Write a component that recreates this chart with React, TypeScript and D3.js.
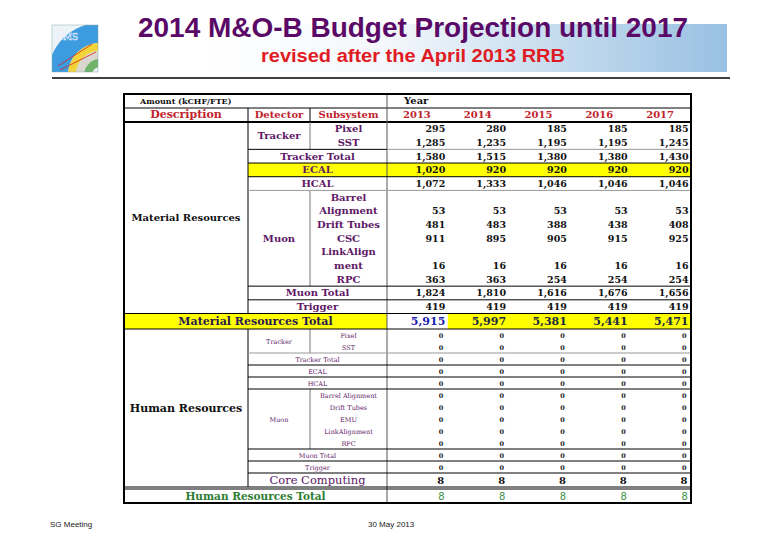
import React from "react";
import * as d3 from "d3";

const years = ["2013", "2014", "2015", "2016", "2017"];

const materialSubsystems = [
  "Pixel", "SST", "Tracker Total", "ECAL", "HCAL", "Barrel", "Alignment",
  "Drift Tubes", "CSC", "LinkAlign", "ment", "RPC", "Muon Total", "Trigger",
];
const materialValues: (number[] | null)[] = [
  [295, 280, 185, 185, 185],
  [1285, 1235, 1195, 1195, 1245],
  [1580, 1515, 1380, 1380, 1430],
  [1020, 920, 920, 920, 920],
  [1072, 1333, 1046, 1046, 1046],
  null,
  [53, 53, 53, 53, 53],
  [481, 483, 388, 438, 408],
  [911, 895, 905, 915, 925],
  null,
  [16, 16, 16, 16, 16],
  [363, 363, 254, 254, 254],
  [1824, 1810, 1616, 1676, 1656],
  [419, 419, 419, 419, 419],
];
const materialTotal = [5915, 5997, 5381, 5441, 5471];

const humanSubsystems = [
  "Pixel", "SST", "Tracker Total", "ECAL", "HCAL", "Barrel Alignment",
  "Drift Tubes", "EMU", "LinkAlignment", "RPC", "Muon Total", "Trigger",
];
const humanValues = [
  [0, 0, 0, 0, 0], [0, 0, 0, 0, 0], [0, 0, 0, 0, 0], [0, 0, 0, 0, 0],
  [0, 0, 0, 0, 0], [0, 0, 0, 0, 0], [0, 0, 0, 0, 0], [0, 0, 0, 0, 0],
  [0, 0, 0, 0, 0], [0, 0, 0, 0, 0], [0, 0, 0, 0, 0], [0, 0, 0, 0, 0],
];
const coreComputing = [8, 8, 8, 8, 8];
const humanTotal = [8, 8, 8, 8, 8];

// row structure
const matSpanRows = [2, 3, 4, 12, 13];
const humSpanRows = [2, 3, 4, 10, 11];
const matGroups = [{ name: "Tracker", from: 0, to: 1 }, { name: "Muon", from: 5, to: 11 }];
const humGroups = [{ name: "Tracker", from: 0, to: 1 }, { name: "Muon", from: 5, to: 9 }];

const W = 780;
const H = 540;
const SERIF = "'DejaVu Serif', serif";
const SANS = "'Liberation Sans', Arial, sans-serif";
const PURPLE = "#5e1866";
const RED = "#c0232b";

export default function App() {
  const fmt = d3.format(",");
  const left = 124, right = 691, top = 94, bottom = 503;
  const xDesc = [124, 248], xDet = [248, 310], xSub = [310, 387];
  const x = d3.scaleBand<string>().domain(years).range([387, right]);
  const yMat = d3.scaleLinear().domain([0, 14]).range([122, 313.5]);
  const yHum = d3.scaleLinear().domain([0, 12]).range([329, 473]);
  const matTotTop = 313.5, matTotBot = 329;
  const coreTop = 473, coreBot = 487;
  const humTotTop = 489, humTotBot = bottom;
  const valX = (i: number) => (x(years[i]) as number) + x.bandwidth() - 2.5;
  const midDesc = (xDesc[0] + xDesc[1]) / 2;
  const midDet = (xDet[0] + xDet[1]) / 2;
  const midSub = (xSub[0] + xSub[1]) / 2;
  const midLabel = (xDet[0] + xSub[1]) / 2;
  const midAll = (left + xSub[1]) / 2;

  const hLine = (y: number, x1: number, x2: number, color = "#000", w = 1, key?: string) => (
    <line key={key ?? `h${y}-${x1}-${x2}`} x1={x1} x2={x2} y1={y} y2={y} stroke={color} strokeWidth={w} />
  );
  const vLine = (xx: number, y1: number, y2: number, color = "#000", w = 1, key?: string) => (
    <line key={key ?? `v${xx}-${y1}-${y2}`} x1={xx} x2={xx} y1={y1} y2={y2} stroke={color} strokeWidth={w} />
  );

  // logo arcs
  const logoCx = 100, logoCy = 75;
  const arcGen = d3.arc();
  const logoRings = [
    { r0: 32, r1: 52, fill: "#3d9be0" },
    { r0: 24, r1: 32, fill: "#f2d33a" },
    { r0: 16, r1: 24, fill: "#d8d8d0" },
    { r0: 8, r1: 16, fill: "#6fb36a" },
  ];

  return (
    <svg width={W} height={H} style={{ position: "absolute", left: 0, top: 0, background: "#fff" }}>
      <defs>
        <linearGradient id="titleGrad" x1="0" x2="1" y1="0" y2="0">
          <stop offset="0" stopColor="#ffffff" />
          <stop offset="0.35" stopColor="#f4f8fc" />
          <stop offset="1" stopColor="#98c0e2" />
        </linearGradient>
        <clipPath id="logoClip">
          <rect x={52} y={25} width={46} height={47} />
        </clipPath>
      </defs>

      {/* title area */}
      <rect x={200} y={24} width={527} height={48} fill="url(#titleGrad)" />
      <g clipPath="url(#logoClip)">
        <rect x={52} y={25} width={46} height={47} fill="#eef3f8" />
        {logoRings.map((r, i) => (
          <path
            key={i}
            transform={`translate(${logoCx},${logoCy})`}
            d={arcGen({ innerRadius: r.r0, outerRadius: r.r1, startAngle: -Math.PI / 2, endAngle: 0 }) as string}
            fill={r.fill}
          />
        ))}
        <line x1={58} y1={66} x2={92} y2={44} stroke="#d32020" strokeWidth={0.8} />
        <line x1={60} y1={70} x2={96} y2={52} stroke="#d32020" strokeWidth={0.8} />
        <text x={56} y={40} fontFamily={SERIF} fontSize={9} fill="none" stroke="#e8f0ff" strokeWidth={0.5}>CMS</text>
      </g>
      <rect x={52} y={25} width={46} height={47} fill="none" stroke="#8aa" strokeWidth={0.5} />
      <text x={138} y={37} fontFamily={SANS} fontWeight="bold" fontSize={28} fill="#5a0a66"
        textLength={550} lengthAdjust="spacingAndGlyphs">2014 M&amp;O-B Budget Projection until 2017</text>
      <text x={261} y={62} fontFamily={SANS} fontWeight="bold" fontSize={18} fill="#e01b24"
        textLength={304} lengthAdjust="spacingAndGlyphs">revised after the April 2013 RRB</text>
      {hLine(78, 52, 730, "#000", 1.5, "titleRule")}

      {/* fills */}
      <rect x={xDet[0]} y={yMat(3)} width={right - xDet[0]} height={yMat(4) - yMat(3)} fill="#ffff00" />
      <rect x={left} y={matTotTop} width={xSub[1] - left} height={matTotBot - matTotTop} fill="#ffff00" />
      <rect x={x(years[1]) as number} y={matTotTop} width={right - (x(years[1]) as number)} height={matTotBot - matTotTop} fill="#ffff00" />

      {/* header */}
      <text x={140} y={104} fontFamily={SERIF} fontWeight="bold" fontSize={8} fill="#111">Amount (kCHF/FTE)</text>
      <text x={404} y={104} fontFamily={SERIF} fontWeight="bold" fontSize={10} fill="#111">Year</text>
      <text x={midDesc} y={118} textAnchor="middle" fontFamily={SERIF} fontWeight="bold" fontSize={11} fill={RED}>Description</text>
      <text x={midDet} y={118} textAnchor="middle" fontFamily={SERIF} fontWeight="bold" fontSize={10} fill={RED}>Detector</text>
      <text x={midSub} y={118} textAnchor="middle" fontFamily={SERIF} fontWeight="bold" fontSize={10} fill={RED}>Subsystem</text>
      {years.map((yr) => (
        <text key={yr} x={(x(yr) as number) + 16} y={118} fontFamily={SERIF} fontWeight="bold" fontSize={10} fill={RED}>{yr}</text>
      ))}

      {/* material section labels */}
      <text x={midDesc} y={(yMat(0) + matTotTop) / 2 + 3.5} textAnchor="middle" fontFamily={SERIF} fontWeight="bold" fontSize={10} fill="#111">Material Resources</text>
      {matGroups.map((g) => (
        <text key={"mg" + g.name} x={midDet} y={(yMat(g.from) + yMat(g.to + 1)) / 2 + 3.5} textAnchor="middle"
          fontFamily={SERIF} fontWeight="bold" fontSize={10} fill={PURPLE}>{g.name}</text>
      ))}
      {materialSubsystems.map((s, i) => {
        const span = matSpanRows.includes(i);
        return (
          <text key={"ms" + i} x={span ? midLabel : midSub} y={(yMat(i) + yMat(i + 1)) / 2 + 3.5} textAnchor="middle"
            fontFamily={SERIF} fontWeight="bold" fontSize={10} fill={PURPLE}>{s}</text>
        );
      })}
      {materialValues.map((vals, i) =>
        vals ? vals.map((v, j) => (
          <text key={`mv${i}-${j}`} x={valX(j)} y={(yMat(i) + yMat(i + 1)) / 2 + 3.5} textAnchor="end"
            fontFamily={SERIF} fontWeight="bold" fontSize={9.5} fill="#111">{fmt(v)}</text>
        )) : null
      )}
      <text x={midAll} y={(matTotTop + matTotBot) / 2 + 4} textAnchor="middle" fontFamily={SERIF} fontWeight="bold" fontSize={11} fill="#2a1856">Material Resources Total</text>
      {materialTotal.map((v, j) => (
        <text key={"mt" + j} x={valX(j)} y={(matTotTop + matTotBot) / 2 + 4} textAnchor="end"
          fontFamily={SERIF} fontWeight="bold" fontSize={11} fill={j === 0 ? "#1c1cb0" : "#1a2a44"}>{fmt(v)}</text>
      ))}

      {/* human section labels */}
      <text x={midDesc} y={(yHum(0) + coreBot) / 2 + 4} textAnchor="middle" fontFamily={SERIF} fontWeight="bold" fontSize={11} fill="#111">Human Resources</text>
      {humGroups.map((g) => (
        <text key={"hg" + g.name} x={midDet} y={(yHum(g.from) + yHum(g.to + 1)) / 2 + 2.5} textAnchor="middle"
          fontFamily={SERIF} fontSize={6.5} fill={PURPLE}>{g.name}</text>
      ))}
      {humanSubsystems.map((s, i) => {
        const span = humSpanRows.includes(i);
        return (
          <text key={"hs" + i} x={span ? midLabel : midSub} y={(yHum(i) + yHum(i + 1)) / 2 + 2.5} textAnchor="middle"
            fontFamily={SERIF} fontSize={6.5} fill={PURPLE}>{s}</text>
        );
      })}
      {humanValues.map((vals, i) =>
        vals.map((v, j) => (
          <text key={`hv${i}-${j}`} x={valX(j) - 2} y={(yHum(i) + yHum(i + 1)) / 2 + 2.5} textAnchor="end"
            fontFamily={SERIF} fontWeight="bold" fontSize={6.5} fill="#222">{fmt(v)}</text>
        ))
      )}
      <text x={midLabel} y={(coreTop + coreBot) / 2 + 4} textAnchor="middle" fontFamily={SERIF} fontSize={11.5} fill={PURPLE}>Core Computing</text>
      {coreComputing.map((v, j) => (
        <text key={"cc" + j} x={valX(j) - 1} y={(coreTop + coreBot) / 2 + 4} textAnchor="end"
          fontFamily={SERIF} fontWeight="bold" fontSize={10} fill="#111">{fmt(v)}</text>
      ))}
      <text x={midAll} y={(humTotTop + humTotBot) / 2 + 3.5} textAnchor="middle" fontFamily={SERIF} fontWeight="bold" fontSize={10.5} fill="#2e7d32">Human Resources Total</text>
      {humanTotal.map((v, j) => (
        <text key={"ht" + j} x={valX(j) - 1} y={(humTotTop + humTotBot) / 2 + 4} textAnchor="end"
          fontFamily={SANS} fontSize={10.5} fill="#2e8b3a">{fmt(v)}</text>
      ))}

      {/* grid lines */}
      {hLine(108, left, right, "#000", 1, "hdr1")}
      {hLine(122, left, right, "#000", 2, "hdr2")}
      {vLine(xDet[0], 108, matTotTop, "#000", 1, "vdetM")}
      {vLine(xDet[0], matTotBot, coreBot, "#000", 1, "vdetH")}
      {vLine(xSub[0], 108, 122, "#000", 1, "vsubHdr")}
      {[...matGroups.map((g) => [yMat(g.from), yMat(g.to + 1)]), ...humGroups.map((g) => [yHum(g.from), yHum(g.to + 1)])].map(
        ([a, b], i) => vLine(xSub[0], a, b, "#777", 1, "vsub" + i)
      )}
      {vLine(xSub[1], top, bottom, "#555", 1, "vyear")}

      {/* material horizontal separators */}
      {[2, 3, 4, 12, 13].map((i) => hLine(yMat(i), xDet[0], xSub[1], "#000", 1, "mlL" + i))}
      {hLine(yMat(5), xDet[0], xSub[1], "#999", 1, "mlL5")}
      {[2, 5].map((i) => hLine(yMat(i), xSub[1], right, "#999", 1, "mlR" + i))}
      {[3, 4, 12, 13].map((i) => hLine(yMat(i), xSub[1], right, "#000", 1, "mlR" + i))}
      {hLine(matTotTop, left, right, "#000", 1, "mtTop")}
      {hLine(matTotBot, left, right, "#000", 1, "mtBot")}

      {/* human horizontal separators */}
      {hLine(yHum(2), xDet[0], right, "#999", 1, "hl2")}
      {[3, 4, 5, 10, 11, 12].map((i) => hLine(yHum(i), xDet[0], right, "#000", 1, "hl" + i))}
      {hLine(coreBot, left, right, "#000", 1, "cb")}
      {hLine(humTotTop, left, right, "#000", 1, "htTop")}

      {/* outer border */}
      <rect x={left} y={top} width={right - left} height={bottom - top} fill="none" stroke="#000" strokeWidth={2} />

      {/* footer */}
      <text x={50} y={527} fontFamily={SANS} fontSize={8} fill="#222">SG Meeting</text>
      <text x={368} y={527} fontFamily={SANS} fontSize={8} fill="#222">30 May 2013</text>
    </svg>
  );
}
